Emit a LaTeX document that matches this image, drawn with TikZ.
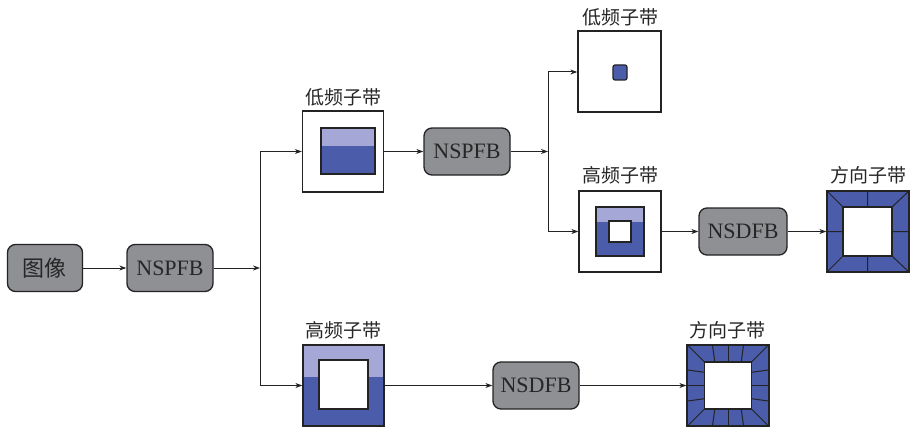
\documentclass[tikz,border=0pt]{standalone}
\usepackage{fontspec}
\setmainfont{Liberation Serif}
\newfontfamily\cjk{Noto Sans CJK SC}
\usetikzlibrary{arrows.meta,calc}
\definecolor{gbox}{RGB}{142,144,148}
\definecolor{dblue}{RGB}{75,92,170}
\definecolor{lblue}{RGB}{165,168,214}
\definecolor{edge}{RGB}{35,35,35}
\begin{document}
\begin{tikzpicture}[x=1pt,y=-1pt,
 proc/.style={draw=edge, fill=gbox, rounded corners=8pt, line width=1.3pt, minimum width=86pt, minimum height=47pt, font=\fontsize{22}{24}\selectfont, inner sep=0, text=black!85},
 frame/.style={draw=edge, line width=1.3pt, minimum width=81pt, minimum height=81pt, inner sep=0},
 lab/.style={font=\cjk\fontsize{19}{21}\selectfont, inner sep=0, text=black!85},
 arr/.style={-{Stealth[length=7pt,width=5pt]}, line width=1pt, edge},
 ln/.style={line width=1pt, edge},
 bd/.style={line width=1.2pt, draw=edge}]
\useasboundingbox (0,0) rectangle (913,428);

% ---- inner contents ----
% mid low-frequency subband
\fill[dblue] (321,128) rectangle (375,174);
\fill[lblue] (321,128) rectangle (375,146);
\draw[bd] (321,128) rectangle (375,174);
% top-right low-frequency subband
\draw[bd, fill=dblue, rounded corners=2pt] (613,65) rectangle (627,80);
% mid-right high-frequency subband
\fill[dblue] (596,207) rectangle (644,256);
\fill[lblue] (596,207) rectangle (644,222);
\draw[bd] (596,207) rectangle (644,256);
\draw[bd, fill=white] (609,221) rectangle (631,242);
% right directional subbands
\fill[dblue] (827,191) rectangle (909,272);
\draw[bd, fill=white] (843,207) rectangle (892,256);
\draw[ln] (827,191) -- (843,207) (909,191) -- (892,207)
          (827,272) -- (843,256) (909,272) -- (892,256)
          (867.5,191) -- (867.5,207) (867.5,256) -- (867.5,272)
          (827,231.5) -- (843,231.5) (892,231.5) -- (909,231.5);
% bottom high-frequency subband
\fill[dblue] (303,344) rectangle (384,426);
\fill[lblue] (303,344) rectangle (384,377);
\draw[bd, fill=white] (319,360) rectangle (368,409);
% bottom directional subbands
\begin{scope}[shift={(728,385.5)}]
 \fill[dblue] (-41,-41) rectangle (41,41);
 \draw[bd, fill=white] (-23.5,-23.5) rectangle (23.5,23.5);
 \foreach \r in {0,90,180,270}{
  \begin{scope}[rotate=\r]
   \draw[ln] (-41,-41) -- (-23.5,-23.5);
   \draw[ln] (-15.6,-41) -- (-13.2,-23.5);
   \draw[ln] (0,-41) -- (0,-23.5);
   \draw[ln] (15.6,-41) -- (13.2,-23.5);
  \end{scope}}
\end{scope}

% ---- nodes ----
\node[proc, minimum width=75pt] (img) at (45,268) {\cjk 图像};
\node[proc] (p1) at (170,268) {NSPFB};
\coordinate (j1) at (260,268);
\coordinate (j1t) at (260,151.5);
\coordinate (j1b) at (260,385.5);
\node[frame] (lo1) at (343,151.5) {};
\node[proc] (p2) at (467,151.5) {NSPFB};
\coordinate (j2) at (548,151.5);
\coordinate (j2t) at (548,72);
\coordinate (j2b) at (548,231.5);
\node[frame, minimum width=83pt] (lo2) at (619.5,71.5) {};
\node[frame, minimum width=82pt] (hi2) at (620,231.5) {};
\node[proc, minimum width=88pt] (d1) at (743,231.5) {NSDFB};
\node[frame, minimum width=82pt] (dir1) at (868,231.5) {};
\node[frame] (hi1) at (343.5,385.5) {};
\node[proc] (d2) at (536,385.5) {NSDFB};
\node[frame, minimum width=82pt] (dir2) at (728,385.5) {};

% ---- labels ----
\node[lab] (t1) at (343,97) {低频子带};
\node[lab] (t2) at (620,17) {低频子带};
\node[lab] (t3) at (620,175) {高频子带};
\node[lab] (t4) at (868,175) {方向子带};
\node[lab] (t5) at (343,330) {高频子带};
\node[lab] (t6) at (727,330) {方向子带};

% ---- connectors ----
\draw[arr] (img) -- (p1);
\draw[arr] (p1) -- (j1);
\draw[ln] (j1t) -- (j1b);
\draw[arr] (j1t) -- (j1t -| lo1.west);
\draw[arr] (j1b) -- (j1b -| hi1.west);
\draw[arr] (lo1) -- (p2);
\draw[arr] (p2) -- (j2);
\draw[ln] (j2t) -- (j2b);
\draw[arr] (j2t) -- (j2t -| lo2.west);
\draw[arr] (j2b) -- (j2b -| hi2.west);
\draw[arr] (hi2) -- (d1);
\draw[arr] (d1) -- (dir1);
\draw[arr] (hi1) -- (d2);
\draw[arr] (d2.east) -- (dir2.west);
\end{tikzpicture}
\end{document}
